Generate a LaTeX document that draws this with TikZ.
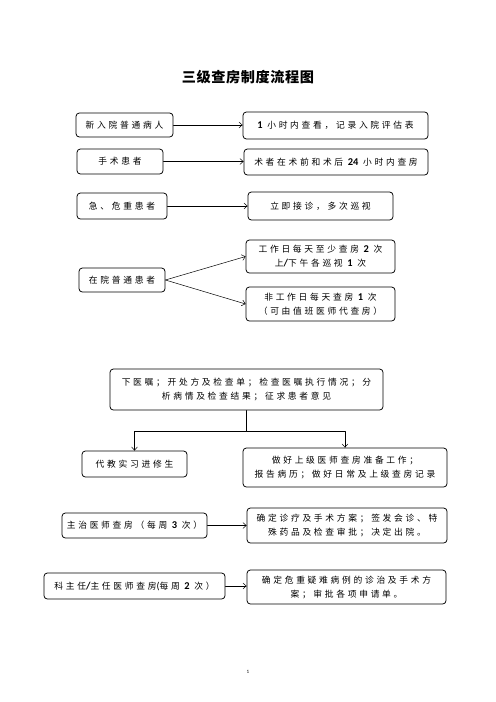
\documentclass[tikz,border=0pt]{standalone}
\usepackage{fontspec}
\setmainfont{Noto Sans CJK SC}[LetterSpace=31]
\newfontfamily\titlefont{Noto Sans CJK SC}[LetterSpace=4]
\newfontfamily\digfont{Carlito}
\newcommand\dg[1]{{\digfont\fontsize{12.5pt}{16.8pt}\selectfont\bfseries #1}}
\usetikzlibrary{arrows.meta}
\begin{document}
\begin{tikzpicture}[x=1.2pt, y=-1.2pt, font=\fontsize{10.5pt}{16.8pt}\selectfont, line join=round, line cap=round, >={Straight Barb[length=4pt,width=7pt]},
	rbox/.style={draw, line width=.9pt, rounded corners=4pt, align=center, inner sep=1pt},
	wh/.style 2 args={minimum width=#1*1.2pt, minimum height=#2*1.2pt}]
	\useasboundingbox (0,0) rectangle (496,702);
	\node (t) at (248,77) {\titlefont\fontsize{17pt}{20pt}\selectfont\bfseries 三级查房制度流程图};
	% left column and right column
	\node[rbox, wh={97}{24}] (a1) at (124.5,125) {新入院普通病人};
	\node[rbox, wh={185}{27}] (b1) at (335.5,125.5) {\dg{1} 小时内查看，记录入院评估表};
	\node[rbox, wh={86}{25}] (a2) at (120,161.5) {手术患者};
	\node[rbox, wh={184}{26}] (b2) at (336,162) {术者在术前和术后 \dg{24} 小时内查房};
	\node[rbox, wh={90}{26}] (a3) at (122,206) {急、危重患者};
	\node[rbox, wh={145}{28}] (b3) at (320.5,206) {立即接诊，多次巡视};
	\node[rbox, wh={86}{24}] (a4) at (122,280) {在院普通患者};
	\node[rbox, wh={149}{33}] (b4) at (320.5,256.5) {工作日每天至少查房 \dg{2} 次\\上\dg{/}下午各巡视 \dg{1} 次};
	\node[rbox, wh={149}{34}] (c4) at (320.5,304) {非工作日每天查房 \dg{1} 次\\（可由值班医师代查房）};
	\node[rbox, wh={273}{41}] (d) at (246.5,389.5) {下医嘱；开处方及检查单；检查医嘱执行情况；分\\析病情及检查结果；征求患者意见};
	\node[rbox, wh={105}{26}] (e1) at (134.5,464) {代教实习进修生};
	\node[rbox, wh={204}{39}] (e2) at (345,467.5) {做好上级医师查房准备工作；\\报告病历；做好日常及上级查房记录};
	\node[rbox, wh={145}{25}] (a7) at (134.5,525.5) {主治医师查房（每周 \dg{3} 次）};
	\node[rbox, wh={181}{26}] (a8) at (134.5,586) {科主任\dg{/}主任医师查房{\digfont\fontsize{12pt}{16.8pt}\selectfont(}每周 \dg{2} 次）};
	\node[rbox, wh={200}{35}] (b7) at (347,525.5) {确定诊疗及手术方案；签发会诊、特\\殊药品及检查审批；决定出院。};
	\node[rbox, wh={199}{34}] (b8) at (346.5,587) {确定危重疑难病例的诊治及手术方\\案；审批各项申请单。};
	\node[font=\fontsize{6pt}{7pt}\selectfont] (pg) at (248,672) {\digfont 1};
	% connectors
	\foreach \p/\q in {a1/b1,a2/b2,a3/b3,a7/b7,a8/b8} \draw[->, line width=.6pt] (\p.east) -- (\p.east -| \q.west);
	\foreach \q in {b4,c4} \draw[->, line width=.6pt] (a4.east) -- (\q.west);
	\coordinate (j) at (d.south |- 0,431);
	\draw[line width=.6pt] (d.south) -- (j);
	\foreach \q in {e1,e2} \draw[->, line width=.6pt] (j) -| (\q.north);
\end{tikzpicture}
\end{document}
